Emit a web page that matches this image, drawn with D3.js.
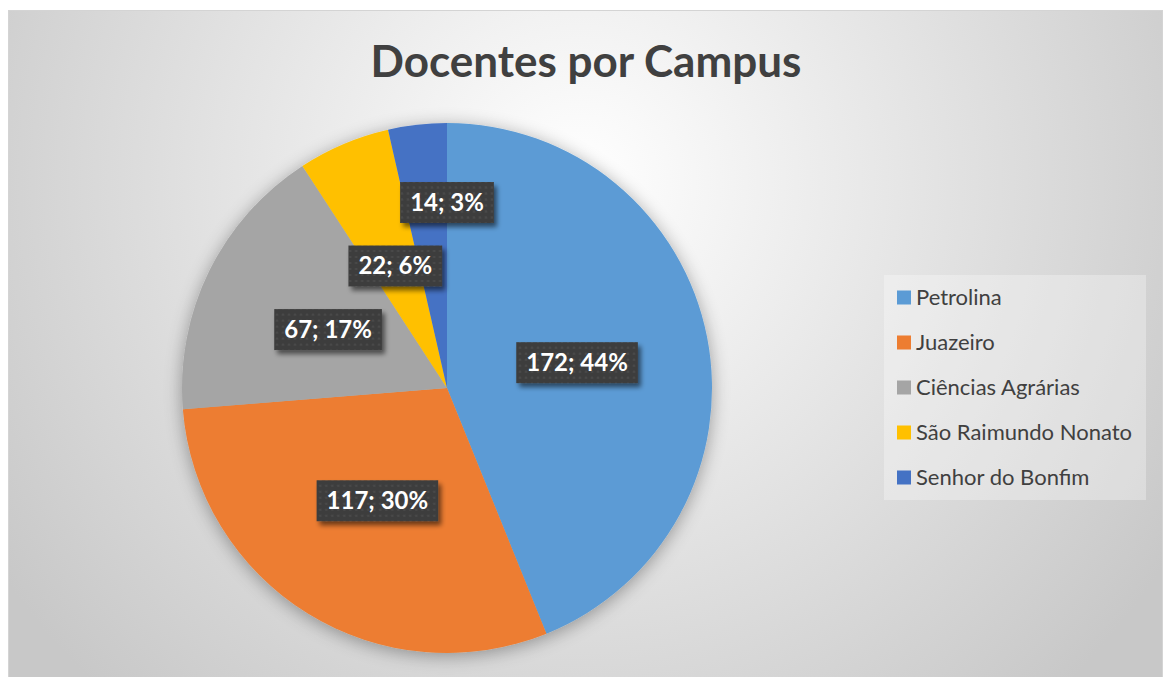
<!DOCTYPE html>
<html>
<head>
<meta charset="utf-8">
<script src="https://cdn.jsdelivr.net/npm/d3@7"></script>
<style>
  body { margin: 0; background: #fff; }
  svg { display: block; }
</style>
</head>
<body>
<svg width="1163" height="677"></svg>
<script>
// data
var campus = ["Petrolina", "Juazeiro", "Ciências Agrárias", "São Raimundo Nonato", "Senhor do Bonfim"]
var docentes = [172, 117, 67, 22, 14]
var percentLabels = ["44%", "30%", "17%", "6%", "3%"]
var sliceColors = ["#5B9BD5", "#ED7D31", "#A5A5A5", "#FFC000", "#4472C4"]

var svg = d3.select("svg"),
  width = 1163,
  height = 677

var defs = svg.append("defs")

// chart background gradient
var bg = defs.append("radialGradient")
  .attr("id", "bgGrad")
  .attr("gradientUnits", "userSpaceOnUse")
  .attr("cx", 580).attr("cy", 180).attr("r", 700)
bg.append("stop").attr("offset", 0).attr("stop-color", "#ffffff")
bg.append("stop").attr("offset", 1).attr("stop-color", "#c8c8c8")

// pie shadow
var pieShadow = defs.append("filter").attr("id", "pieShadow")
  .attr("x", "-20%").attr("y", "-20%").attr("width", "140%").attr("height", "140%")
pieShadow.append("feGaussianBlur").attr("in", "SourceAlpha").attr("stdDeviation", 9)
pieShadow.append("feOffset").attr("dx", 0).attr("dy", 3).attr("result", "blur")
pieShadow.append("feComponentTransfer").append("feFuncA").attr("type", "linear").attr("slope", 0.35)
var m1 = pieShadow.append("feMerge")
m1.append("feMergeNode")
m1.append("feMergeNode").attr("in", "SourceGraphic")

// label box shadow
var boxShadow = defs.append("filter").attr("id", "boxShadow")
  .attr("x", "-20%").attr("y", "-30%").attr("width", "150%").attr("height", "180%")
boxShadow.append("feGaussianBlur").attr("in", "SourceAlpha").attr("stdDeviation", 2.5)
boxShadow.append("feOffset").attr("dx", 3).attr("dy", 4)
boxShadow.append("feComponentTransfer").append("feFuncA").attr("type", "linear").attr("slope", 0.55)
var m2 = boxShadow.append("feMerge")
m2.append("feMergeNode")
m2.append("feMergeNode").attr("in", "SourceGraphic")

// dotted label fill
var dots = defs.append("pattern").attr("id", "dots")
  .attr("patternUnits", "userSpaceOnUse").attr("width", 6).attr("height", 6)
dots.append("rect").attr("width", 6).attr("height", 6).attr("fill", "#3e3e3e")
dots.append("circle").attr("cx", 3).attr("cy", 3).attr("r", 1.1).attr("fill", "#4d4d4d")

svg.append("rect")
  .attr("x", 8.5).attr("y", 10.5)
  .attr("width", 1154).attr("height", 680)
  .attr("fill", "url(#bgGrad)")
  .attr("stroke", "#d4d4d4")

svg.append("text")
  .attr("x", 586).attr("y", 77)
  .attr("text-anchor", "middle")
  .style("font-family", "Lato, 'Open Sans', sans-serif")
  .style("font-weight", "bold")
  .style("font-size", "44px")
  .attr("fill", "#404040")
  .text("Docentes por Campus")

////////// PIE //////////
var cx = 447, cy = 388, radius = 265

var pie = d3.pie().sort(null).value(function (d) { return d })
var arcs = pie(docentes)
var arc = d3.arc().innerRadius(0).outerRadius(radius)
var labelArc = d3.arc().innerRadius(radius * 0.5).outerRadius(radius * 0.5)

var g = svg.append("g").attr("transform", "translate(" + cx + "," + cy + ")")

g.append("g").attr("filter", "url(#pieShadow)")
  .selectAll("path")
  .data(arcs)
  .enter().append("path")
  .attr("d", arc)
  .attr("fill", function (d, i) { return sliceColors[i] })

////////// LABELS //////////
var labels = g.append("g").attr("class", "labels")
  .selectAll("g")
  .data(arcs)
  .enter().append("g")

labels.append("rect").attr("class", "box")
  .attr("fill", "url(#dots)")
  .attr("filter", "url(#boxShadow)")

labels.append("text")
  .attr("text-anchor", "middle")
  .attr("dy", "0.35em")
  .style("font-family", "Lato, 'Open Sans', sans-serif")
  .style("font-weight", "bold")
  .style("font-size", "24px")
  .attr("fill", "#ffffff")
  .text(function (d, i) { return docentes[i] + "; " + percentLabels[i] })

var placed = []
labels.each(function (d, i) {
  var t = d3.select(this).select("text")
  var w = t.node().getComputedTextLength() + 20, h = 41
  var p = labelArc.centroid(d)
  var box = { x: p[0] - w / 2, y: p[1] - h / 2, w: w, h: h }
  var hit = placed.some(function (b) {
    return box.x < b.x + b.w && box.x + box.w > b.x && box.y < b.y + b.h && box.y + box.h > b.y
  })
  if (hit) {
    // best fit: move small slice label outward to the slice edge
    var a = d.endAngle, r = radius * 0.7
    p = [Math.sin(a) * r, -Math.cos(a) * r]
    box = { x: p[0] - w / 2, y: p[1] - h / 2, w: w, h: h }
  }
  placed.push(box)
  d3.select(this).attr("transform", "translate(" + p[0] + "," + p[1] + ")")
  d3.select(this).select("rect")
    .attr("x", -w / 2).attr("y", -h / 2)
    .attr("width", w).attr("height", h)
})

////////// LEGEND //////////
var legend = svg.append("g").attr("transform", "translate(884,275)")
legend.append("rect")
  .attr("width", 262).attr("height", 225)
  .attr("fill", "#ffffff").attr("fill-opacity", 0.3)

var ly = d3.scaleBand().domain(campus).range([0, 225])

var item = legend.selectAll(".item")
  .data(campus)
  .enter().append("g")
  .attr("class", "item")
  .attr("transform", function (d) { return "translate(0," + (ly(d) + ly.bandwidth() / 2) + ")" })

item.append("rect")
  .attr("x", 13).attr("y", -7)
  .attr("width", 14).attr("height", 14)
  .attr("fill", function (d, i) { return sliceColors[i] })

item.append("text")
  .attr("x", 32).attr("dy", "0.35em")
  .style("font-family", "Lato, 'Open Sans', sans-serif")
  .style("font-size", "22px")
  .attr("fill", "#404040")
  .text(function (d) { return d })
</script>
</body>
</html>
